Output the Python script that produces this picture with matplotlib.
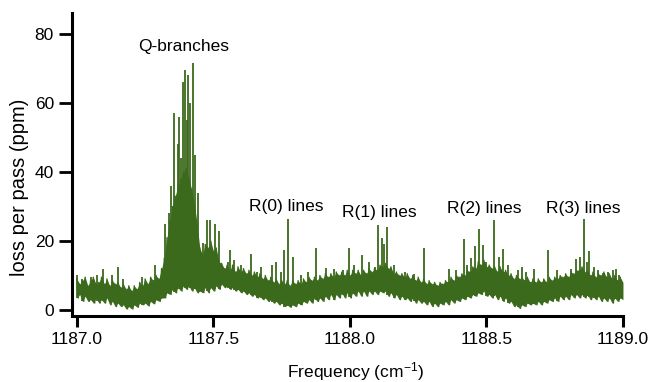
import numpy as np
import matplotlib
matplotlib.use('Agg')
from matplotlib import pyplot as plt

plt.rcParams['font.family'] = ['Liberation Sans', 'DejaVu Sans']
plt.rcParams['mathtext.default'] = 'regular'

# spectrum sampled every 0.01 cm-1 from 1187.00 to 1189.00
freq_start = 1187.0
freq_step = 0.01

# upper edge of the noise band (ppm)
band_hi = [
    9, 7.5, 8.5, 9.5, 7, 8.5, 9.5, 7.5, 8, 9.5,
    7.5, 9, 7, 8.5, 7.5, 8, 6.5, 7.5, 6, 7,
    5.5, 7, 6, 8, 7, 9, 7.5, 9.5, 8.5, 10,
    9, 12, 15, 21, 26, 30, 33, 36, 38, 40,
    41, 38, 35, 31, 25, 18, 16, 19, 18, 20,
    17, 18, 14, 13.5, 12, 13, 11.5, 13, 11, 12.5,
    11, 12, 10.5, 11.5, 10, 11, 9.5, 10.5, 9, 10,
    8.5, 9.5, 8, 9, 7.5, 8.5, 7.5, 8.5, 7, 8.5,
    7.5, 8.5, 7.5, 9, 8, 9.5, 8.5, 9.5, 8.5, 10,
    9, 10.5, 9.5, 10.5, 9.5, 11, 10, 11, 10, 11.5,
    10, 11.5, 10.5, 11.5, 10, 11.5, 10.5, 12, 11, 12,
    11.5, 13, 12.5, 13.5, 12, 12.5, 10.5, 11, 10, 10.5,
    9.5, 10.5, 9, 10, 8.5, 9.5, 8, 9, 7.5, 8.5,
    7.5, 8, 7, 8, 7.5, 8.5, 8, 9.5, 8.5, 10,
    9.5, 10.5, 10, 11.5, 11, 12.5, 12, 14, 13, 14.5,
    12.5, 13, 12, 12.5, 11, 12.5, 11, 11.5, 10, 10.5,
    9, 10, 9, 9.5, 8.5, 9.5, 8, 9, 8, 9,
    8, 9, 8, 9.5, 8.5, 9.5, 9, 10, 9.5, 10.5,
    9.5, 11, 10.5, 11.5, 11.5, 12.5, 11, 11.5, 10, 11,
    9.5, 10.5, 10, 11, 9.5, 10.5, 9, 10, 8.5, 9.5,
    8,
]

# lower edge of the noise band (ppm)
band_lo = [
    3.5, 4.5, 2.5, 4, 2.5, 3, 2, 3.5, 2, 3,
    2, 3.5, 1.5, 2.5, 1, 2, 1, 1.5, 0.3, 1,
    0.3, 1.5, 0.8, 2, 1.5, 2, 1.2, 2.5, 1.8, 3,
    2.5, 3.5, 3.5, 5, 4.5, 6, 5, 6.5, 5.5, 7,
    6, 7, 5.5, 6.5, 5, 5.5, 5, 6.5, 5, 6.5,
    5.5, 7, 6, 7.5, 6.5, 7, 6, 6.5, 5.5, 6,
    5, 5.5, 4.5, 5, 4, 4.5, 3.5, 4, 3, 3.5,
    2.5, 3, 2, 2.5, 1.5, 2, 1, 1.5, 0.8, 1.5,
    1, 2, 1.5, 2.5, 2, 3, 2, 3.5, 2.5, 3.5,
    2.5, 4, 3, 4.5, 3, 4.5, 3.5, 5, 3.5, 5,
    3.5, 5, 4, 5.5, 4, 5.5, 4, 5.5, 4.5, 5.5,
    4.5, 5.5, 5, 5.5, 4, 5, 3.5, 4.5, 3, 4,
    3, 3.5, 2.5, 3.5, 2, 3, 2, 2.5, 1.5, 2.5,
    1, 2, 1, 2, 1.5, 2.5, 1.5, 3, 2, 3,
    2.5, 3.5, 3, 4, 3.5, 4.5, 4, 5, 4.5, 5.5,
    4, 4.5, 3.5, 4.5, 3, 4, 2.5, 3.5, 2, 2.5,
    1, 1.5, 0.5, 1.5, 1, 2, 1.5, 2, 1.5, 2.5,
    1.5, 2.5, 2, 3, 2.5, 3.5, 2.5, 4, 3, 4,
    3, 4.5, 3.5, 4.5, 3.5, 4.5, 3.5, 4.5, 3, 4,
    3, 4, 2.5, 3.5, 2.5, 3.5, 2, 3.5, 2.5, 3.5,
    3,
]

# individual absorption lines (cm-1, ppm)
spike_freq = [
    1187.000, 1187.020, 1187.050, 1187.075, 1187.095, 1187.128, 1187.150,
    1187.170, 1187.240, 1187.285,
    1187.324, 1187.337, 1187.345, 1187.357, 1187.370, 1187.375, 1187.382,
    1187.389, 1187.395, 1187.403, 1187.408, 1187.415, 1187.425, 1187.432,
    1187.443, 1187.463, 1187.477, 1187.487, 1187.504, 1187.519,
    1187.555, 1187.559, 1187.577, 1187.602, 1187.636, 1187.660, 1187.675,
    1187.716, 1187.730, 1187.747, 1187.760, 1187.774, 1187.790, 1187.820,
    1187.845, 1187.875, 1187.913, 1187.940, 1187.974,
    1187.998, 1188.015, 1188.045, 1188.071, 1188.090, 1188.104, 1188.118,
    1188.125, 1188.137, 1188.160, 1188.200, 1188.235,
    1188.272, 1188.364, 1188.390, 1188.418, 1188.430, 1188.445, 1188.459,
    1188.471, 1188.487, 1188.500,
    1188.527, 1188.545, 1188.562, 1188.580, 1188.615, 1188.629, 1188.645,
    1188.673, 1188.725, 1188.760, 1188.810,
    1188.828, 1188.843, 1188.858, 1188.867, 1188.875, 1188.895, 1188.910,
    1188.928, 1188.945, 1188.962, 1188.974, 1188.985,
]
spike_height = [
    10, 9, 9.5, 10, 12, 10, 12.4,
    9, 9.5, 13,
    25, 28, 36, 57, 48, 56, 44,
    66, 69.5, 55, 68, 60, 71.5, 45,
    34, 19.5, 26, 26, 25, 23,
    14, 17.5, 14.5, 13, 16.2, 11, 12.5,
    13, 14, 11, 17.5, 26.3, 15.4, 10,
    11, 18, 12.3, 12, 11.6,
    18, 13, 16, 14, 12.5, 24.6, 21,
    19, 24, 13, 11, 10.5,
    17.9, 12, 11.5, 20.5, 13, 15, 18.6,
    23.6, 18.7, 14,
    26, 15.4, 17.8, 13, 11.6, 12.5, 11,
    11.8, 17.4, 11.5, 12,
    14.8, 15.5, 26.5, 14, 17, 12.5, 11.5,
    10.6, 11, 11.6, 12, 10,
]

label_text = ['Q-branches', 'R(0) lines', 'R(1) lines', 'R(2) lines', 'R(3) lines']
label_freq = [1187.392, 1187.767, 1188.109, 1188.493, 1188.853]
label_loss = [76.5, 29.9, 28.4, 29.3, 29.5]

green = '#3b6a1c'

freq = freq_start + freq_step * np.arange(len(band_hi))
x = np.empty(2 * len(freq))
y = np.empty(2 * len(freq))
x[0::2] = freq
x[1::2] = freq + freq_step / 2
y[0::2] = band_hi
y[1::2] = band_lo

fig = plt.figure(figsize=(6.53, 3.82), dpi=100)
ax = fig.add_axes([0.1103, 0.1728, 0.8437, 0.7932])

# solid noise band, then the jagged trace and the lines on top
ax.fill_between(freq, band_lo, band_hi, color=green, lw=0)
ax.plot(x, y, color=green, lw=1.0)
base = np.interp(spike_freq, freq, band_lo)
ax.vlines(spike_freq, base, spike_height, color=green, lw=1.3)

for t, fx, fy in zip(label_text, label_freq, label_loss):
    ax.text(fx, fy, t, ha='center', va='center', fontsize=12.5, color='black')

ax.set_xlim(1186.982, 1189.0)
ax.set_ylim(-1.74, 86.1)
ax.set_xticks([1187.0, 1187.5, 1188.0, 1188.5, 1189.0])
ax.set_xticklabels(['1187.0', '1187.5', '1188.0', '1188.5', '1189.0'])
ax.set_yticks([0, 20, 40, 60, 80])

for s in ['top', 'right']:
    ax.spines[s].set_visible(False)
for s in ['left', 'bottom']:
    ax.spines[s].set_linewidth(2.2)
ax.tick_params(axis='x', length=8, width=2.2, labelsize=12.5, pad=3.5)
ax.tick_params(axis='y', length=9.5, width=2, labelsize=12.5, pad=3.5)

ax.set_xlabel('Frequency (cm$^{\\mathregular{-1}}$)', fontsize=12.5)
ax.xaxis.set_label_coords(0.514, -0.145)
ax.set_ylabel('loss per pass (ppm)', fontsize=14.5)
ax.yaxis.set_label_coords(-0.079, 0.424)

fig.savefig('out.png', dpi=100)
